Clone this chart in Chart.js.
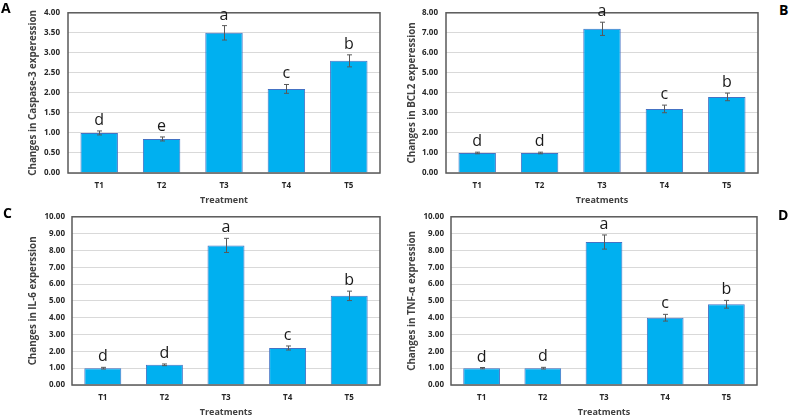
<!DOCTYPE html>
<html><head><meta charset="utf-8">
<script src="https://cdn.jsdelivr.net/npm/chart.js@4.4.0/dist/chart.umd.min.js"></script>
<style>
html,body{margin:0;padding:0;background:#fff;}
body{width:791px;height:420px;position:relative;overflow:hidden;}
.panel{position:absolute;}
.panel canvas{display:block;}
.tag{position:absolute;font:bold 14px "Open Sans",sans-serif;color:#000;line-height:1;}
</style></head><body>
<div class="panel" style="left:0;top:0"><canvas id="cA" width="390" height="210"></canvas></div>
<div class="panel" style="left:395px;top:0"><canvas id="cB" width="370" height="210"></canvas></div>
<div class="panel" style="left:0;top:205px"><canvas id="cC" width="390" height="215"></canvas></div>
<div class="panel" style="left:395px;top:205px"><canvas id="cD" width="370" height="215"></canvas></div>
<div class="tag" style="left:1px;top:1px">A</div>
<div class="tag" style="left:779px;top:3px">B</div>
<div class="tag" style="left:3px;top:206px">C</div>
<div class="tag" style="left:778px;top:208px">D</div>
<script>
const categories = ['T1','T2','T3','T4','T5'];

const caspaseValues  = [1.00, 0.85, 3.50, 2.10, 2.80];
const caspaseErrors  = [0.05, 0.05, 0.18, 0.11, 0.15];
const caspaseLetters = ['d','e','a','c','b'];

const bcl2Values  = [1.00, 1.00, 7.20, 3.20, 3.80];
const bcl2Errors  = [0.04, 0.04, 0.33, 0.19, 0.19];
const bcl2Letters = ['d','d','a','c','b'];

const il6Values  = [1.00, 1.20, 8.30, 2.20, 5.30];
const il6Errors  = [0.05, 0.05, 0.42, 0.12, 0.28];
const il6Letters = ['d','d','a','c','b'];

const tnfValues  = [1.00, 1.00, 8.50, 4.00, 4.80];
const tnfErrors  = [0.04, 0.05, 0.42, 0.20, 0.23];
const tnfLetters = ['d','d','a','c','b'];

const FONT = '"Open Sans", sans-serif';

const boxAndErrors = {
  id: 'boxAndErrors',
  afterDatasetsDraw(chart, args, opts) {
    const {ctx, chartArea: a, scales: {y}} = chart;
    const meta = chart.getDatasetMeta(0);
    const ds = chart.data.datasets[0];
    ctx.save();
    ctx.strokeStyle = '#595959';
    ctx.lineWidth = 1.5;
    ctx.strokeRect(a.left, a.top, a.right - a.left, a.bottom - a.top);
    ctx.lineWidth = 1;
    meta.data.forEach((bar, i) => {
      const v = ds.data[i], e = opts.errors[i];
      const x = Math.round(bar.x) + 0.5;
      const yt = y.getPixelForValue(v + e), yb = y.getPixelForValue(v - e);
      ctx.strokeStyle = '#595959';
      ctx.beginPath();
      ctx.moveTo(x, yt); ctx.lineTo(x, yb);
      ctx.moveTo(x - 2.5, yt); ctx.lineTo(x + 2.5, yt);
      ctx.moveTo(x - 2.5, yb); ctx.lineTo(x + 2.5, yb);
      ctx.stroke();
      ctx.fillStyle = '#1a1a1a';
      ctx.font = '16px ' + FONT;
      ctx.textAlign = 'center';
      ctx.textBaseline = 'alphabetic';
      ctx.fillText(opts.letters[i], bar.x, yt - 6);
    });
    ctx.restore();
  }
};

function makeChart(id, cfg) {
  new Chart(document.getElementById(id), {
    type: 'bar',
    data: {
      labels: categories,
      datasets: [{
        data: cfg.values,
        backgroundColor: '#00B0F0',
        borderColor: '#4472C4',
        borderWidth: 1,
        barPercentage: 0.6,
        categoryPercentage: 1.0
      }]
    },
    options: {
      responsive: false,
      animation: false,
      layout: {padding: {top: cfg.padTop, right: cfg.padRight, left: 0, bottom: 0}},
      plugins: {
        legend: {display: false},
        tooltip: {enabled: false},
        boxAndErrors: {errors: cfg.errors, letters: cfg.letters}
      },
      scales: {
        x: {
          grid: {display: false, drawTicks: false},
          border: {display: false},
          ticks: {color: '#262626', font: {family: FONT, size: 8, weight: 'bold'}, padding: 8},
          title: {display: true, text: cfg.xTitle, color: '#404040',
                  font: {family: FONT, size: 9, weight: 'bold'}, padding: {top: 0, bottom: cfg.xTitlePad}},
          afterFit(s) { s.height = cfg.xHeight; }
        },
        y: {
          min: 0, max: cfg.max,
          grid: {color: '#d9d9d9', lineWidth: 1, drawTicks: false},
          border: {display: false},
          ticks: {stepSize: cfg.step, color: '#262626', padding: cfg.tickPad,
                  font: {family: FONT, size: 8, weight: 'bold'},
                  callback: v => Number(v).toFixed(2)},
          title: {display: true, text: cfg.yTitle, color: '#404040',
                  font: {family: FONT, size: 9.8, weight: 'bold'}, padding: {top: cfg.yTitlePad, bottom: 0}},
          afterFit(s) { s.width = cfg.yWidth; }
        }
      }
    },
    plugins: [boxAndErrors]
  });
}

makeChart('cA', {values: caspaseValues, errors: caspaseErrors, letters: caspaseLetters,
  max: 4, step: 0.5, yTitle: 'Changes in Caspase-3 experession', xTitle: 'Treatment',
  padTop: 4, padRight: 10, yWidth: 68, xHeight: 37, tickPad: 8, yTitlePad: 27, xTitlePad: 4});
makeChart('cB', {values: bcl2Values, errors: bcl2Errors, letters: bcl2Letters,
  max: 8, step: 1, yTitle: 'Changes in BCL2 experession', xTitle: 'Treatments',
  padTop: 4, padRight: 7, yWidth: 51, xHeight: 37, tickPad: 8, yTitlePad: 11, xTitlePad: 4});
makeChart('cC', {values: il6Values, errors: il6Errors, letters: il6Letters,
  max: 10, step: 1, yTitle: 'Changes in IL-6 experssion', xTitle: 'Treatments',
  padTop: 11, padRight: 10, yWidth: 72, xHeight: 35, tickPad: 7, yTitlePad: 27, xTitlePad: 2});
makeChart('cD', {values: tnfValues, errors: tnfErrors, letters: tnfLetters,
  max: 10, step: 1, yTitle: 'Changes in TNF-\u03b1 expression', xTitle: 'Treatments',
  padTop: 11, padRight: 8, yWidth: 56, xHeight: 35, tickPad: 7, yTitlePad: 11, xTitlePad: 2});
</script>
</body></html>
